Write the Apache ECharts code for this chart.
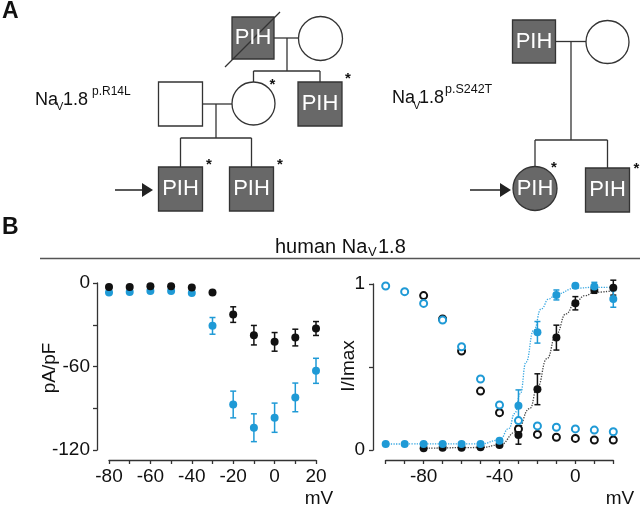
<!DOCTYPE html>
<html>
<head>
<meta charset="utf-8">
<script src="https://cdn.jsdelivr.net/npm/echarts@6/dist/echarts.min.js"></script>
<style>
  html, body { margin: 0; padding: 0; background: #fff; }
  #chart { width: 640px; height: 506px; }
</style>
</head>
<body>
<div id="chart"></div>
<script>
// I-V curve (pA/pF), voltage in mV
var ivVolt = [-80, -70, -60, -50, -40, -30, -20, -10, 0, 10, 20];
var ivBlack = [-2.9, -2.9, -2.4, -2.4, -3.3, -6.9, -22.7, -37.5, -42.3, -39.2, -32.7];
var ivBlackErr = [0, 0, 0, 0, 0, 0, 5.6, 7, 6.7, 6, 5];
var ivBlue = [-6.9, -6.5, -5.7, -5.7, -7.2, -30.8, -87.3, -104, -96.8, -82.2, -63.1];
var ivBlueErr = [0, 0, 0, 0, 0, 6, 9.6, 10, 10.5, 10.3, 9];

// activation / inactivation (I/Imax)
var gvVolt = [-100, -90, -80, -70, -60, -50, -40, -30, -20, -10, 0, 10, 20];
var actBlue = [0.036, 0.036, 0.036, 0.036, 0.036, 0.036, 0.056, 0.267, 0.709, 0.934, 0.99, 0.985, 0.91];
var actBlueErr = [0, 0, 0, 0, 0, 0, 0, 0.095, 0.065, 0.03, 0, 0.025, 0.05];
var actBlack = [null, null, 0.01, 0.014, 0.014, 0.016, 0.03, 0.09, 0.366, 0.677, 0.884, 0.964, 0.978];
var actBlackErr = [0, 0, 0, 0, 0, 0, 0, 0.055, 0.093, 0.075, 0.04, 0.02, 0.045];
var inactBlue = [0.988, 0.954, 0.883, 0.783, 0.622, 0.428, 0.271, 0.177, 0.145, 0.137, 0.127, 0.12, 0.11];
var inactBlueErr = [0.012, 0.01, 0.01, 0, 0, 0, 0, 0, 0, 0, 0, 0, 0];
var inactBlack = [null, null, 0.93, 0.789, 0.596, 0.355, 0.225, 0.127, 0.094, 0.077, 0.07, 0.06, 0.06];

// dotted fit curves
var fitBlueX = [-100, -50, -40, -35, -32, -29, -26, -22, -18, -14, -10, 0, 10, 20];
var fitBlueY = [0.036, 0.037, 0.06, 0.13, 0.22, 0.34, 0.53, 0.72, 0.85, 0.91, 0.94, 0.975, 0.98, 0.98];
var fitBlackX = [-80, -50, -40, -31, -24, -20, -15, -10, -5, 0, 5, 10, 20];
var fitBlackY = [0.01, 0.015, 0.03, 0.11, 0.25, 0.38, 0.55, 0.70, 0.82, 0.89, 0.93, 0.95, 0.96];

var BLUE = '#1f9ad6';
var FONT = '"Liberation Sans", Arial, sans-serif';

function pairs(xs, ys) {
    var out = [];
    for (var i = 0; i < xs.length; i++) {
        if (ys[i] !== null) out.push([xs[i], ys[i]]);
    }
    return out;
}
function errData(xs, ys, es) {
    var out = [];
    for (var i = 0; i < xs.length; i++) {
        if (ys[i] !== null && es[i] > 0) out.push([xs[i], ys[i], es[i]]);
    }
    return out;
}

function errSeries(idx, data, color) {
    return {
        type: 'custom',
        xAxisIndex: idx,
        yAxisIndex: idx,
        data: data,
        z: 3,
        renderItem: function (params, api) {
            var x = api.value(0), y = api.value(1), e = api.value(2);
            var top = api.coord([x, y + e]);
            var bot = api.coord([x, y - e]);
            var st = { stroke: color, lineWidth: 1.5 };
            return {
                type: 'group',
                children: [
                    { type: 'line', shape: { x1: top[0], y1: top[1], x2: bot[0], y2: bot[1] }, style: st },
                    { type: 'line', shape: { x1: top[0] - 3, y1: top[1], x2: top[0] + 3, y2: top[1] }, style: st },
                    { type: 'line', shape: { x1: bot[0] - 3, y1: bot[1], x2: bot[0] + 3, y2: bot[1] }, style: st }
                ]
            };
        }
    };
}

function dots(idx, data, color, empty) {
    return {
        type: 'scatter',
        xAxisIndex: idx,
        yAxisIndex: idx,
        data: data,
        clip: false,
        symbol: empty ? 'emptyCircle' : 'circle',
        symbolSize: empty ? 7 : 8,
        z: 4,
        itemStyle: empty ? { color: color, borderColor: color, borderWidth: 1.6, opacity: 1 } : { color: color, opacity: 1 },
        emphasis: { disabled: true }
    };
}

function fit(xs, ys, color) {
    return {
        type: 'line',
        xAxisIndex: 1,
        yAxisIndex: 1,
        data: pairs(xs, ys),
        smooth: true,
        smoothMonotone: 'x',
        showSymbol: false,
        z: 2,
        lineStyle: { color: color, width: 1.3, type: 'dotted' }
    };
}

// ---- pedigree drawing helpers ----
var LINE = { stroke: '#333', lineWidth: 1.3 };
function ln(x1, y1, x2, y2) {
    return { type: 'line', shape: { x1: x1, y1: y1, x2: x2, y2: y2 }, style: LINE };
}
function sq(x, y, s, filled) {
    return { type: 'rect', shape: { x: x, y: y, width: s, height: s },
        style: { fill: filled ? '#686868' : '#fff', stroke: '#333', lineWidth: 1.3 } };
}
function circ(cx, cy, r, filled) {
    return { type: 'circle', shape: { cx: cx, cy: cy, r: r },
        style: { fill: filled ? '#686868' : '#fff', stroke: '#333', lineWidth: 1.3 } };
}
function txt(x, y, s, size, color, align, weight, rot) {
    return { type: 'text', x: x, y: y, rotation: rot || 0, z: 10,
        style: { text: s, fill: color || '#111', font: (weight || 'normal') + ' ' + size + 'px ' + FONT,
            align: align || 'left', textAlign: align || 'left', verticalAlign: 'middle', textVerticalAlign: 'middle' } };
}
function pih(cx, cy) { return txt(cx, cy, 'PIH', 22, '#fff', 'center'); }
function star(x, y) { return txt(x, y + 2, '*', 15, '#111', 'center', 'bold'); }
function arrow(x1, x2, y) {
    return [
        { type: 'line', shape: { x1: x1, y1: y, x2: x2 - 10, y2: y }, style: { stroke: '#222', lineWidth: 1.5 } },
        { type: 'polygon', shape: { points: [[x2 - 11, y - 7], [x2, y], [x2 - 11, y + 7]] }, style: { fill: '#222' } }
    ];
}

var ped = [];
// panel A left family
ped.push(ln(273, 38, 299, 38), ln(287, 38, 287, 71), ln(253.5, 71, 320, 71),
    ln(253.5, 71, 253.5, 82), ln(320, 71, 320, 82));
ped.push(sq(232, 17, 42, true), pih(253, 38), ln(225, 67, 280, 12));
ped.push(circ(320.5, 38.5, 22, false));
ped.push(ln(203, 104, 233, 104), ln(216, 104, 216, 138), ln(180.5, 138, 251.5, 138),
    ln(180.5, 138, 180.5, 167), ln(251.5, 138, 251.5, 167));
ped.push(sq(158.5, 82, 44, false), circ(253.5, 103.5, 21.5, false));
ped.push(sq(298, 82, 44, true), pih(320, 104));
ped.push(sq(158.5, 167, 44, true), pih(180.5, 189), sq(229.5, 167, 44, true), pih(251.5, 189));
ped = ped.concat(arrow(115, 153, 190));
ped.push(star(272.5, 83), star(348, 77), star(209, 163), star(280, 163));
// panel A right family
ped.push(ln(555, 41.5, 586, 41.5), ln(571, 41.5, 571, 140), ln(535, 140, 607.5, 140),
    ln(535, 140, 535, 167), ln(607.5, 140, 607.5, 168));
ped.push(sq(512.5, 20, 43, true), pih(534, 41.5), circ(607.5, 42, 21.5, false));
ped.push(circ(535, 188.5, 22, true), pih(535, 189), sq(585.5, 168, 44, true), pih(607.5, 190));
ped = ped.concat(arrow(470, 511, 190));
ped.push(star(554, 166), star(636.5, 167));
// labels
ped.push(txt(35, 100.5, 'Na', 18), txt(56, 106.5, 'V', 11), txt(63, 100.5, '1.8', 18), txt(92, 92, 'p.R14L', 12));
ped.push(txt(392, 98.5, 'Na', 18), txt(413, 105.5, 'V', 11), txt(419, 98.5, '1.8', 18), txt(445, 90, 'p.S242T', 12.5));
ped.push(txt(2, 12, 'A', 23, '#111', 'left', 'bold'), txt(2, 228, 'B', 23, '#111', 'left', 'bold'));
// panel B header
ped.push({ type: 'line', shape: { x1: 40, y1: 258.5, x2: 640, y2: 258.5 }, style: { stroke: '#555', lineWidth: 1.5 } });
ped.push(txt(275, 247, 'human Na', 20), txt(368, 252.5, 'V', 13), txt(378, 247, '1.8', 20));
// axis names
ped.push(txt(50, 368, 'pA/pF', 19, '#111', 'center', 'normal', Math.PI / 2));
ped.push(txt(349, 366, 'I/Imax', 19, '#111', 'center', 'normal', Math.PI / 2));
ped.push(txt(319, 499, 'mV', 19, '#111', 'center'), txt(620, 499, 'mV', 19, '#111', 'center'));

var axisLine = { onZero: false, lineStyle: { color: '#333', width: 1.3 } };
var axisTick = { length: 4, lineStyle: { color: '#333', width: 1.3 } };

var option = {
    animation: false,
    backgroundColor: '#fff',
    grid: [
        { left: 109, top: 283, width: 207, height: 167 },
        { left: 385.7, top: 284, width: 227.6, height: 166 }
    ],
    xAxis: [
        { type: 'value', gridIndex: 0, min: -80, max: 20, interval: 10, offset: 10,
          axisLine: axisLine, axisTick: axisTick, splitLine: { show: false },
          axisLabel: { fontSize: 19, fontFamily: FONT, color: '#111', margin: 7,
              formatter: function (v) { return v % 20 === 0 ? String(v) : ''; } } },
        { type: 'value', gridIndex: 1, min: -100, max: 20, interval: 10, offset: 10,
          axisLine: axisLine, axisTick: axisTick, splitLine: { show: false },
          axisLabel: { fontSize: 19, fontFamily: FONT, color: '#111', margin: 7,
              formatter: function (v) { return (v === -80 || v === -40 || v === 0) ? String(v) : ''; } } }
    ],
    yAxis: [
        { type: 'value', gridIndex: 0, min: -120, max: 0, interval: 30, offset: 12,
          axisLine: axisLine, axisTick: axisTick, splitLine: { show: false },
          axisLabel: { fontSize: 19, fontFamily: FONT, color: '#111', margin: 7,
              formatter: function (v) { return v % 60 === 0 ? String(v) : ''; } } },
        { type: 'value', gridIndex: 1, min: 0, max: 1, interval: 0.5, offset: 12.7,
          axisLine: axisLine, axisTick: axisTick, splitLine: { show: false },
          axisLabel: { fontSize: 19, fontFamily: FONT, color: '#111', margin: 8,
              formatter: function (v) { return (v === 0 || v === 1) ? String(v) : ''; } } }
    ],
    graphic: { elements: ped },
    series: [
        errSeries(0, errData(ivVolt, ivBlue, ivBlueErr), BLUE),
        dots(0, pairs(ivVolt, ivBlue), BLUE, false),
        errSeries(0, errData(ivVolt, ivBlack, ivBlackErr), '#111'),
        dots(0, pairs(ivVolt, ivBlack), '#111', false),

        fit(fitBlueX, fitBlueY, '#3aa8e2'),
        fit(fitBlackX, fitBlackY, '#444'),
        dots(1, pairs(gvVolt, inactBlack), '#111', true),
        errSeries(1, errData(gvVolt, inactBlue, inactBlueErr), BLUE),
        dots(1, pairs(gvVolt, inactBlue), BLUE, true),
        errSeries(1, errData(gvVolt, actBlack, actBlackErr), '#111'),
        dots(1, pairs(gvVolt, actBlack), '#111', false),
        errSeries(1, errData(gvVolt, actBlue, actBlueErr), BLUE),
        dots(1, pairs(gvVolt, actBlue), BLUE, false)
    ]
};

var myChart = echarts.init(document.getElementById('chart'));
myChart.setOption(option);
</script>
</body>
</html>
